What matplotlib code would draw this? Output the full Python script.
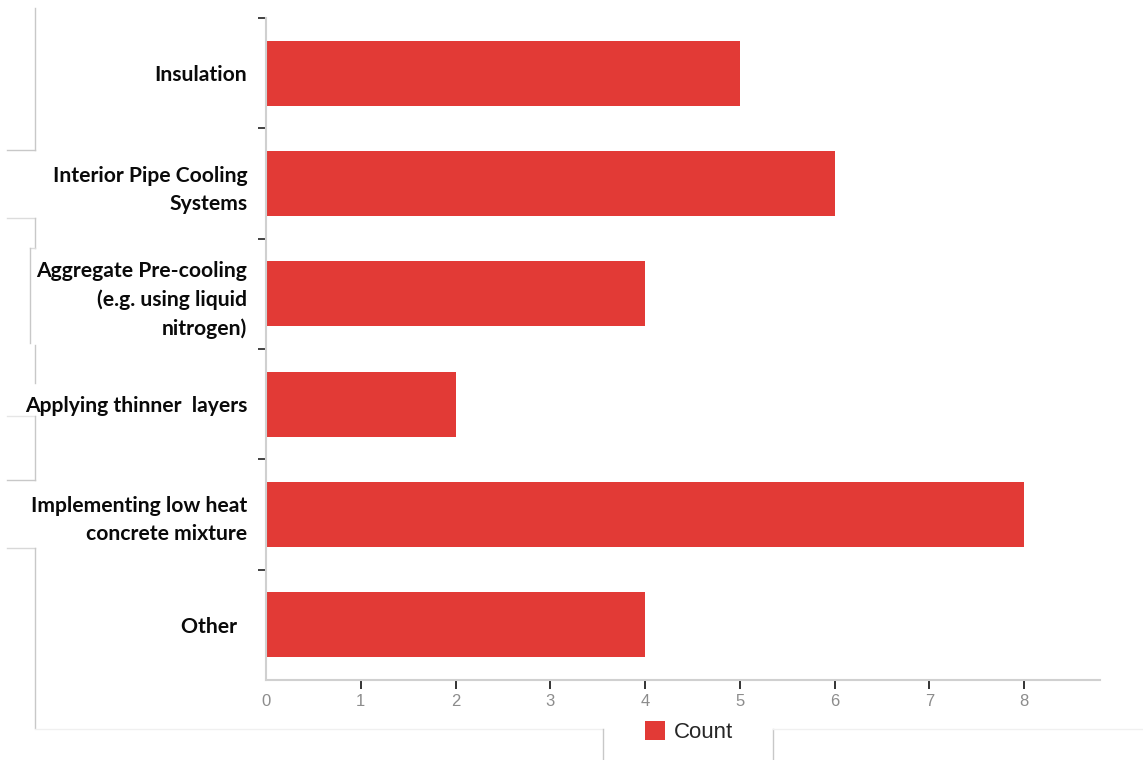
import matplotlib.pyplot as plt
from matplotlib.lines import Line2D

# survey answers: methods used to control heat in mass concrete
categories = [
    "Insulation",
    "Interior Pipe Cooling\nSystems",
    "Aggregate Pre-cooling\n(e.g. using liquid\nnitrogen)",
    "Applying thinner  layers",
    "Implementing low heat\nconcrete mixture",
    "Other  ",
]
counts = [5, 6, 4, 2, 8, 4]
x_ticks = [0, 1, 2, 3, 4, 5, 6, 7, 8]

W, H = 1143, 760
fig = plt.figure(figsize=(W / 100, H / 100), dpi=100)
ax = fig.add_axes([266 / W, 1 - 680 / H, (1100 - 266) / W, (680 - 18) / H])

pos = list(range(len(categories)))
ax.barh(pos, counts, height=0.59, color="#e23a36", label="Count")
ax.set_ylim(len(categories) - 0.5, -0.5)
ax.set_xlim(0, 8.8)

# category labels in the middle of each band, tick marks on band edges
ax.set_yticks(pos)
ax.set_yticklabels(categories, fontfamily="Lato", fontweight="bold",
                   fontsize=15.2, color="#0a0a0a", linespacing=1.5)
ax.set_yticks([p - 0.5 for p in pos], minor=True)
ax.tick_params(axis="y", which="major", length=0, pad=13.5)
ax.tick_params(axis="y", which="minor", length=6, width=1.3, color="#333333")

ax.set_xticks(x_ticks)
ax.set_xticklabels([str(t) for t in x_ticks], fontfamily="Liberation Sans",
                   fontsize=12, color="#8c8c8c")
ax.tick_params(axis="x", length=6.5, width=1.4, color="#333333", pad=3.5)
ax.xaxis.get_major_ticks()[0].tick1line.set_visible(False)

for side in ["top", "right"]:
    ax.spines[side].set_visible(False)
for side in ["left", "bottom"]:
    ax.spines[side].set_color("#d0d0d0")
    ax.spines[side].set_linewidth(1.5)

leg = fig.legend(loc="center", bbox_to_anchor=(689 / W, 1 - 732 / H),
                 frameon=False, handlelength=0.9, handleheight=0.9,
                 handletextpad=0.4,
                 prop={"family": "Liberation Sans", "size": 16})
for t in leg.get_texts():
    t.set_color("#262626")

# thin leftover border lines around the labels and legend
edge_lines = [
    ((34.5, 8), (34.5, 150), "#c8c8c8"),
    ((7, 150), (34.5, 150), "#c8c8c8"),
    ((7, 218), (34.5, 218), "#dcdcdc"),
    ((34.5, 218), (34.5, 248), "#c8c8c8"),
    ((30, 248), (34.5, 248), "#dcdcdc"),
    ((30, 248), (30, 343), "#c8c8c8"),
    ((34.5, 345), (34.5, 383), "#c8c8c8"),
    ((7, 416), (34.5, 416), "#e6e6e6"),
    ((34.5, 416), (34.5, 480), "#c8c8c8"),
    ((7, 480), (34.5, 480), "#c8c8c8"),
    ((7, 548), (34.5, 548), "#d8d8d8"),
    ((34.5, 548), (34.5, 728), "#c8c8c8"),
    ((34.5, 729), (603, 729), "#f0f0f0"),
    ((603, 729), (603, 760), "#c8c8c8"),
    ((773, 729), (773, 760), "#c8c8c8"),
    ((773, 729), (1143, 729), "#f0f0f0"),
]
for (x0, y0), (x1, y1), c in edge_lines:
    fig.add_artist(Line2D([x0 / W, x1 / W], [1 - y0 / H, 1 - y1 / H],
                          transform=fig.transFigure, color=c, lw=1))

fig.savefig("out.png", dpi=100)
